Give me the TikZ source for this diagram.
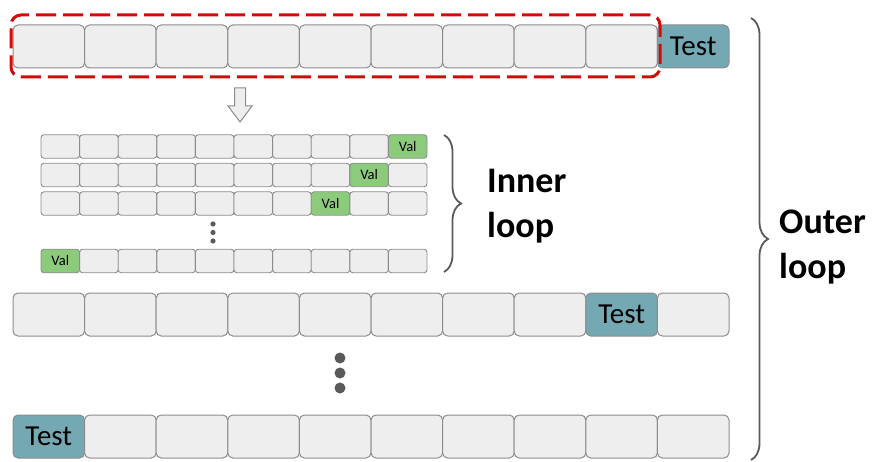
\documentclass[tikz,border=0pt]{standalone}
\usepackage{fontspec}
\setmainfont{Carlito}
\usetikzlibrary{decorations.pathreplacing}
\definecolor{cellfill}{HTML}{EEEEEE}
\definecolor{celldraw}{HTML}{8C8C8C}
\definecolor{testfill}{HTML}{74A8B3}
\definecolor{valfill}{HTML}{8DCB7C}
\definecolor{redd}{HTML}{D20A0A}
\definecolor{bracec}{HTML}{5A5A5A}
\tikzset{
  bigcell/.style={draw=celldraw, fill=cellfill, rounded corners=5pt, minimum width=71.6pt, minimum height=43pt, line width=1pt, inner sep=0pt, font=\fontsize{29}{32}\selectfont},
  smallcell/.style={draw=celldraw, fill=cellfill, rounded corners=3pt, minimum width=38.6pt, minimum height=23.5pt, line width=0.9pt, inner sep=0pt, font=\fontsize{14.5}{16}\selectfont},
  testcell/.style={fill=testfill},
  valcell/.style={fill=valfill},
  bracestyle/.style={draw=bracec, line width=1.8pt, decorate, decoration={brace, amplitude=17pt}},
  looplabel/.style={font=\bfseries\fontsize{36}{45}\selectfont, align=left, anchor=west, inner sep=0pt},
  dotstyle/.style={fill=bracec, draw=none}
}
\begin{document}
\begin{tikzpicture}[x=1pt,y=-1pt]
\useasboundingbox (0,0) rectangle (872,462);
% big rows
\foreach \r/\y/\t in {a/46.5/9, b/314.5/8, c/436.5/0}{
  \foreach \i in {0,...,9}{
    \ifnum\i=\t
      \node[bigcell,testcell] (\r\i) at ({13+35.8+71.6*\i},\y) {Test};
    \else
      \node[bigcell] (\r\i) at ({13+35.8+71.6*\i},\y) {};
    \fi
  }
}
% small rows
\foreach \r/\y/\t in {s1/146.5/9, s2/175/8, s3/203.5/7, s4/261/0}{
  \foreach \i in {0,...,9}{
    \ifnum\i=\t
      \node[smallcell,valcell] (\r-\i) at ({41+19.3+38.6*\i},\y) {Val};
    \else
      \node[smallcell] (\r-\i) at ({41+19.3+38.6*\i},\y) {};
    \fi
  }
}
% selection box
\node[draw=redd, line width=3pt, dash pattern=on 20pt off 7pt, rounded corners=10pt, minimum width=649pt, minimum height=62pt, inner sep=0pt] (sel) at (335.5,46) {};
% arrow
\draw[fill=cellfill, draw=celldraw, line width=1pt] (234.5,88) -- (245.5,88) -- (245.5,106) -- (252,106) -- (240,122) -- (228,106) -- (234.5,106) -- cycle;
% small dots
\foreach \yy in {224,232.5,241} \fill[dotstyle] (213,\yy) circle (2.6pt);
% big dots
\foreach \yy in {358,373,388} \fill[dotstyle] (340,\yy) circle (5.5pt);
% braces
\coordinate (ib1) at (444,135);
\coordinate (ib2) at (444,272);
\draw[bracestyle] (ib1) -- (ib2);
\coordinate (ob1) at (751,18);
\coordinate (ob2) at (751,460);
\draw[bracestyle] (ob1) -- (ob2);
% labels
\node[looplabel] (inner) at (487,206) {Inner\\loop};
\node[looplabel] (outer) at (779,247) {Outer\\loop};
\end{tikzpicture}
\end{document}
